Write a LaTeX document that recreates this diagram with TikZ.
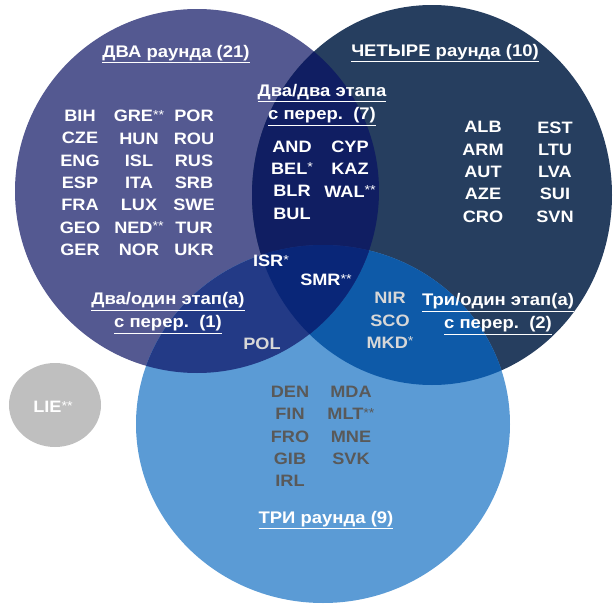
\documentclass[tikz,border=0pt]{standalone}
\usepackage{fontspec}
\setmainfont[FakeStretch=1.1]{Liberation Sans}
\usepackage{tikz}
\usetikzlibrary{positioning}

\definecolor{twoblue}{RGB}{84,89,145}
\definecolor{fourblue}{RGB}{38,62,95}
\definecolor{threeblue}{RGB}{91,155,213}
\definecolor{twofour}{RGB}{16,30,98}
\definecolor{twothree}{RGB}{35,58,134}
\definecolor{fourthree}{RGB}{14,90,168}
\definecolor{allthree}{RGB}{9,38,120}
\definecolor{liegray}{RGB}{191,191,191}
\definecolor{codegray}{RGB}{89,89,89}
\definecolor{softgray}{RGB}{215,215,215}

\newcommand{\sups}[1]{\raisebox{2.5pt}{\mdseries\fontsize{13}{13}\selectfont #1}}
\newcommand{\twoset}{(197,191) circle (182pt)}
\newcommand{\fourset}{(432,195) ellipse (180pt and 190pt)}
\newcommand{\threeset}{(323,424) ellipse (187pt and 179pt)}

\tikzset{
  code/.style={align=center, text=white, font=\bfseries\fontsize{16.5}{22.3}\selectfont},
  heading/.style={align=center, text=white, font=\bfseries\fontsize{16.8}{23}\selectfont},
}

\begin{document}
\begin{tikzpicture}[x=1pt,y=-1pt]
    \useasboundingbox (0,0) rectangle (614,605);
    % the three sets
    \fill[twoblue] \twoset;
    \fill[fourblue] \fourset;
    \fill[threeblue] \threeset;
    \begin{scope}
        \clip \fourset;
        \fill[fourthree] \threeset;
    \end{scope}
    \begin{scope}
        \clip \twoset;
        \fill[twofour] \fourset;
        \fill[twothree] \threeset;
        \clip \fourset;
        \fill[allthree] \threeset;
    \end{scope}
    \fill[liegray] (55,405) ellipse (46pt and 42pt);

    % two rounds
    \node[heading] (two) at (176,54) {\underline{ДВА раунда (21)}};
    \node[code] (twoA) at (80,183) {BIH\\CZE\\ENG\\ESP\\FRA\\GEO\\GER};
    \node[code] (twoB) at (139,183) {GRE\sups{**}\\HUN\\ISL\\ITA\\LUX\\NED\sups{**}\\NOR};
    \node[code] (twoC) at (194,183) {POR\\ROU\\RUS\\SRB\\SWE\\TUR\\UKR};

    % two/two
    \node[heading] (twotwo) at (322,105) {\underline{Два/два этапа}\\\underline{с перер.\ \ (7)}};
    \node[code] (twotwoA) at (292,180) {AND\\BEL\sups{*}\\BLR\\BUL};
    \node[code] (twotwoB) at (350,169) {CYP\\KAZ\\WAL\sups{**}};

    % four rounds
    \node[heading] (four) at (445,53) {\underline{ЧЕТЫРЕ раунда (10)}};
    \node[code] (fourA) at (483,172) {ALB\\ARM\\AUT\\AZE\\CRO};
    \node[code] (fourB) at (555,172) {EST\\LTU\\LVA\\SUI\\SVN};

    % middle
    \node[heading] (twoone) at (168,313) {\underline{Два/один этап(а)}\\\underline{с перер.\ \ (1)}};
    \node[code, text=softgray] (pol) at (262,344) {POL};
    \node[code] (isr) at (271,261) {ISR\sups{*}};
    \node[code] (smr) at (326,280) {SMR\sups{**}};
    \node[code, text=softgray] (nir) at (390,320.5) {NIR\\SCO\\MKD\sups{*}};
    \node[heading] (threeone) at (498,314) {\underline{Три/один этап(а)}\\\underline{с перер.\ \ (2)}};

    % three rounds
    \node[code, text=codegray] (threeA) at (290,436.5) {DEN\\FIN\\FRO\\GIB\\IRL};
    \node[code, text=codegray] (threeB) at (351,425.5) {MDA\\MLT\sups{**}\\MNE\\SVK};
    \node[heading] (three) at (326,520) {\underline{ТРИ раунда (9)}};

    \node[code] (lie) at (53,407) {LIE\sups{**}};
\end{tikzpicture}
\end{document}
